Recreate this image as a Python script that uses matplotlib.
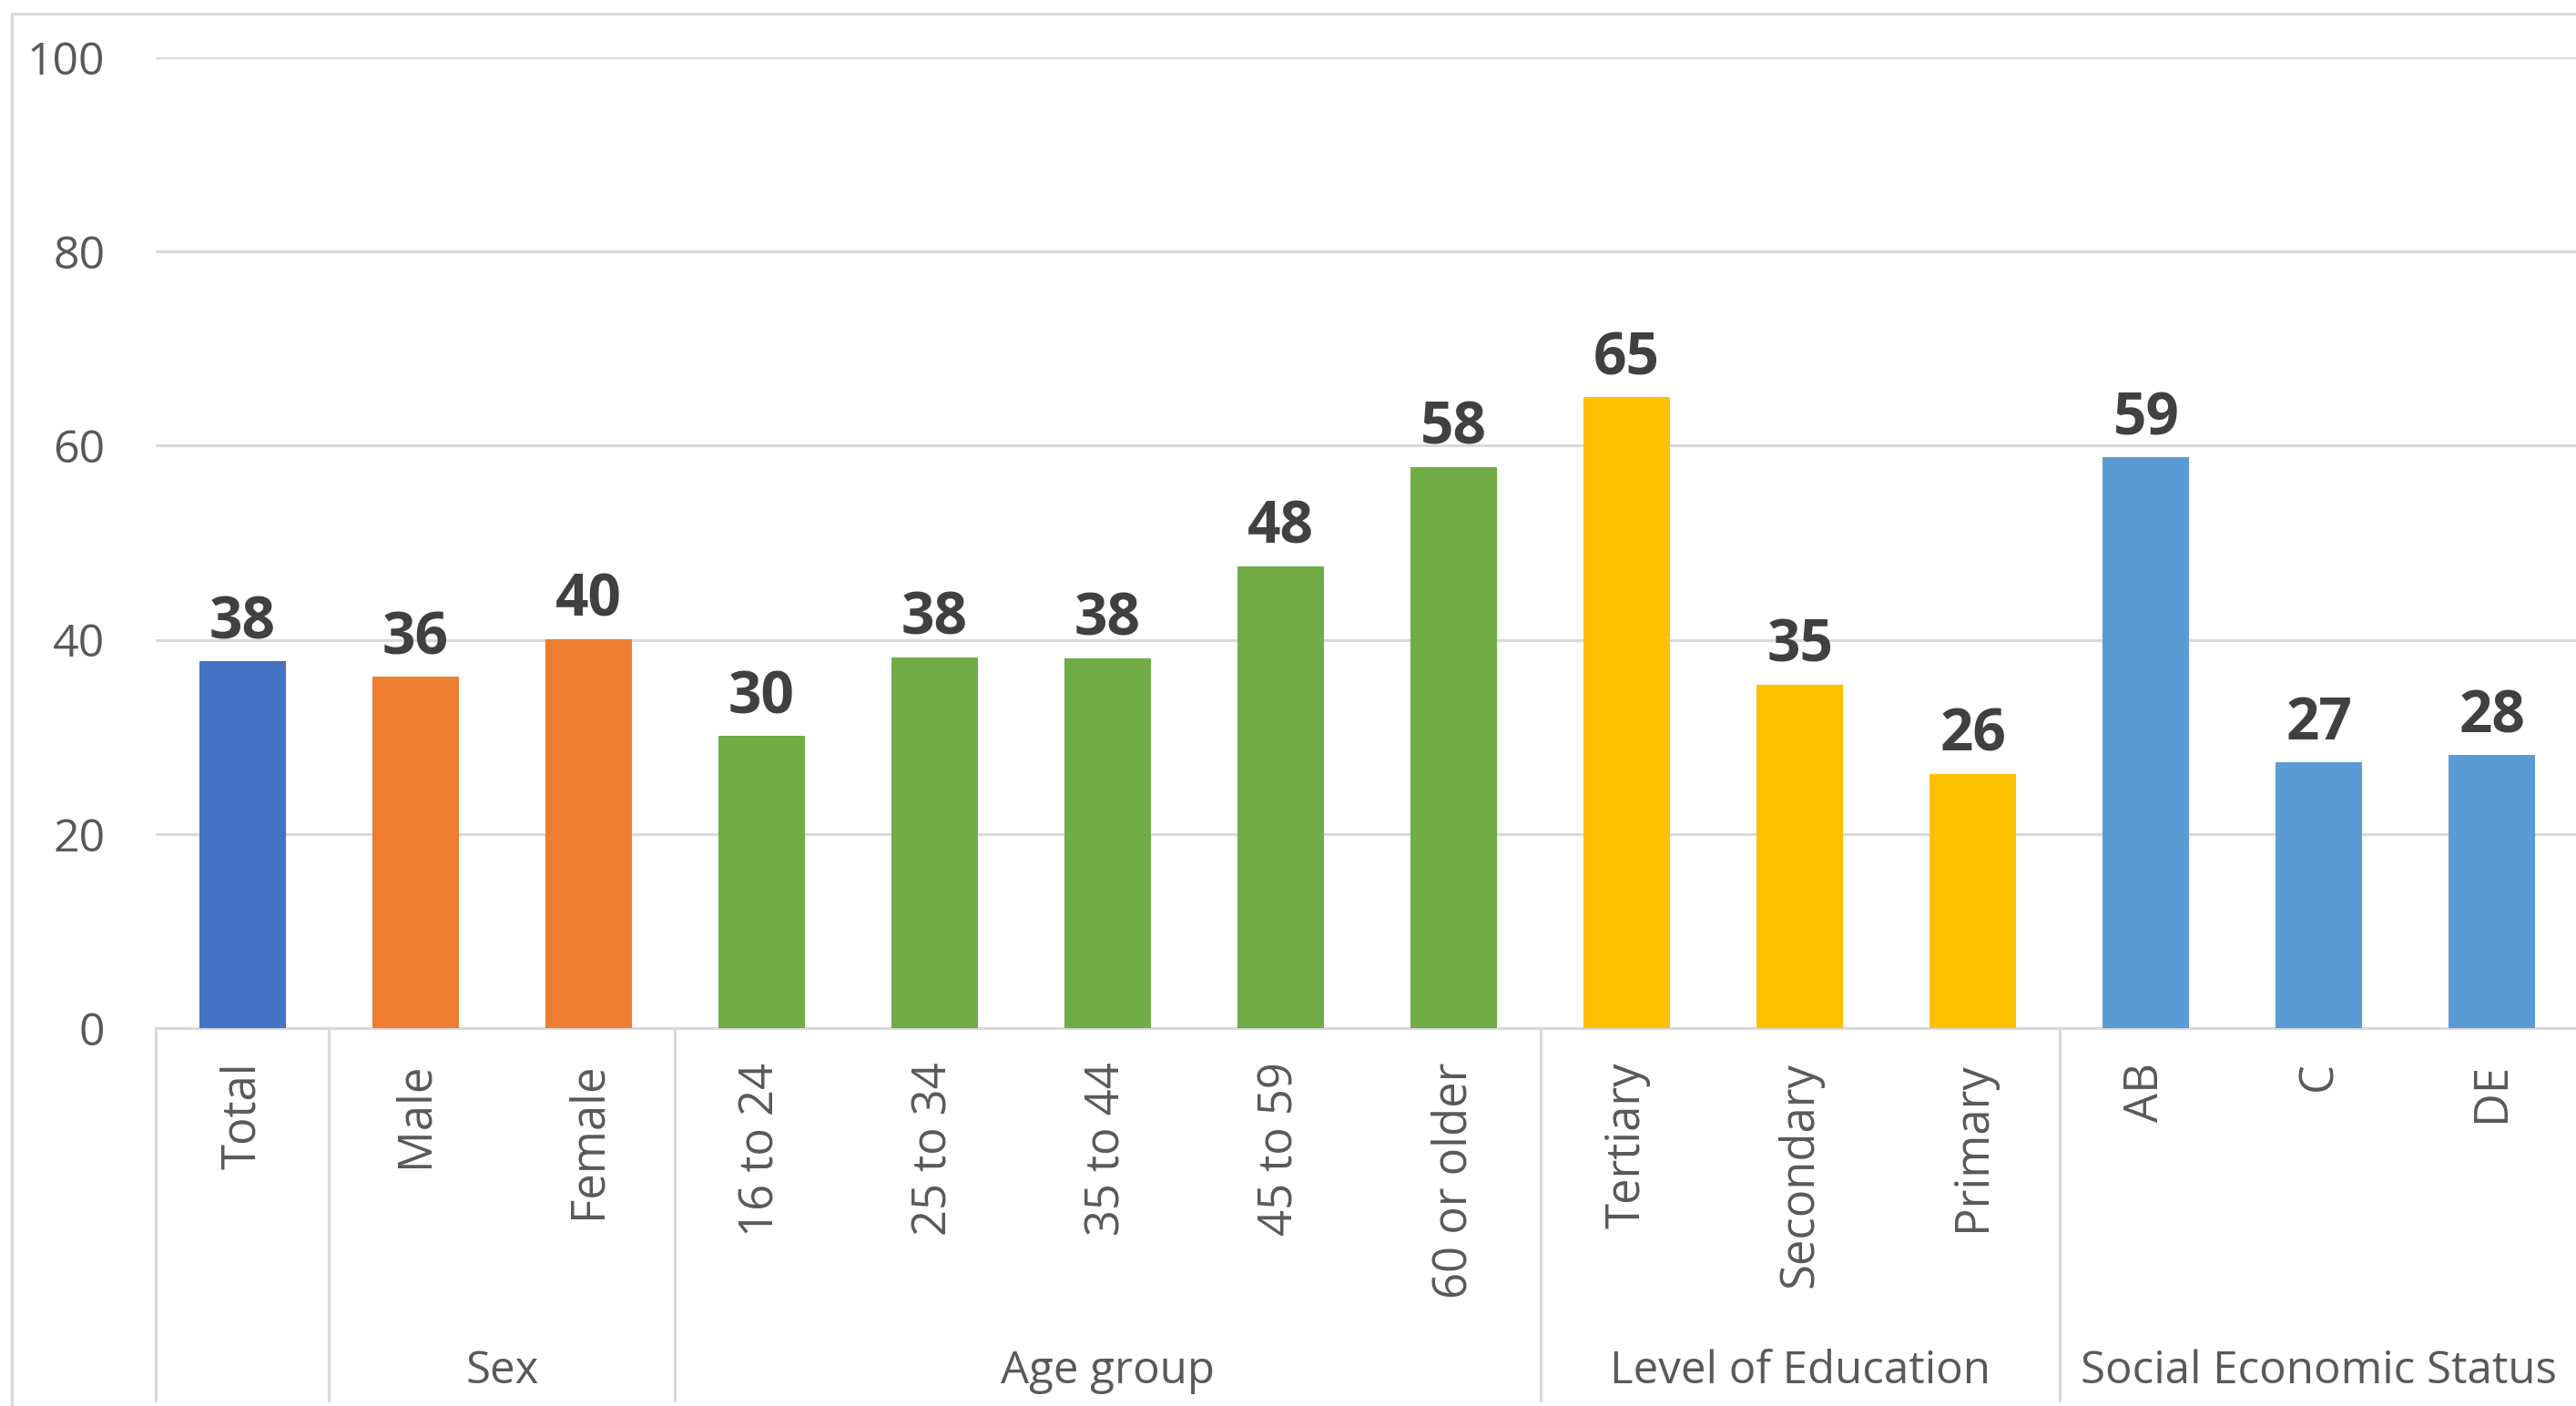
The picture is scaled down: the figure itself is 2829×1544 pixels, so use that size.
import matplotlib
matplotlib.use("Agg")
import matplotlib.pyplot as plt
from matplotlib import font_manager
from matplotlib.lines import Line2D
import matplotlib.transforms as mtransforms

# ---- data ----
categories = ["Total", "Male", "Female", "16 to 24", "25 to 34", "35 to 44",
              "45 to 59", "60 or older", "Tertiary", "Secondary", "Primary",
              "AB", "C", "DE"]
values = [37.8, 36.2, 40.1, 30.1, 38.2, 38.1, 47.6, 57.8, 65.0, 35.4, 26.2,
          58.8, 27.4, 28.1]
groups = ["", "Sex", "Age group", "Level of Education", "Social Economic Status"]
group_sizes = [1, 2, 5, 3, 3]
group_colors = ["#4472C4", "#ED7D31", "#70AD47", "#FFC000", "#5B9BD5"]
yticks = [0, 20, 40, 60, 80, 100]

# ---- fonts ----
avail = {f.name for f in font_manager.fontManager.ttflist}
main_font = "Open Sans" if "Open Sans" in avail else "DejaVu Sans"
plt.rcParams["font.family"] = [main_font, "DejaVu Sans"]

W, H = 2829, 1544
fig = plt.figure(figsize=(W / 100, H / 100), dpi=100)
fig.patch.set_facecolor("white")

left_px, right_px, top_px, bottom_px = 171, 2832, 63, 1129
ax = fig.add_axes([left_px / W, (H - bottom_px) / H,
                   (right_px - left_px) / W, (bottom_px - top_px) / H])

colors = []
for c, n in zip(group_colors, group_sizes):
    colors += [c] * n

x = list(range(len(categories)))
bars = ax.bar(x, values, width=0.5, color=colors, zorder=3)

ax.set_xlim(-0.5, len(categories) - 0.5)
ax.set_ylim(0, 100)
ax.set_yticks(yticks)
ax.yaxis.grid(True, color="#D9D9D9", linewidth=2.2, zorder=0)
ax.set_axisbelow(True)
for s in ["top", "right", "left"]:
    ax.spines[s].set_visible(False)
ax.spines["bottom"].set_color("#D9D9D9")
ax.spines["bottom"].set_linewidth(2.2)

ax.tick_params(axis="y", length=0, pad=40, labelsize=36, labelcolor="#595959")
ax.tick_params(axis="x", length=0, pad=27, labelsize=36.5, labelcolor="#595959")
ax.set_xticks(x)
ax.set_xticklabels(categories, rotation=90, va="top", ha="center")

# data labels
for xi, v in zip(x, values):
    ax.annotate(f"{round(v):d}", (xi, v), xytext=(0, 18), textcoords="offset points",
                ha="center", va="baseline", fontsize=46, fontweight="bold",
                color="#404040")

# group separators and labels
trans = mtransforms.blended_transform_factory(ax.transData, fig.transFigure)
y_top = (H - bottom_px) / H
y_bot = (H - 1538) / H
boundaries = [-0.5]
pos = -0.5
for n in group_sizes:
    pos += n
    boundaries.append(pos)
for b in boundaries:
    ax.add_artist(Line2D([b, b], [y_top, y_bot], transform=trans, color="#D9D9D9",
                         linewidth=2.2, clip_on=False))
start = 0
for g, n in zip(groups, group_sizes):
    if g:
        center = start + (n - 1) / 2
        ax.text(center, (H - 1506) / H, g, transform=trans, ha="center", va="center",
                fontsize=35.5, color="#595959")
    start += n

# outer chart frame (cropped on right and bottom)
fig.add_artist(Line2D([13 / W, 13 / W], [1 - 15 / H, 0], transform=fig.transFigure,
                      color="#D9D9D9", linewidth=2.2))
fig.add_artist(Line2D([13 / W, 1], [1 - 15 / H, 1 - 15 / H], transform=fig.transFigure,
                      color="#D9D9D9", linewidth=2.2))

fig.savefig("out.png", dpi=100, facecolor="white")
